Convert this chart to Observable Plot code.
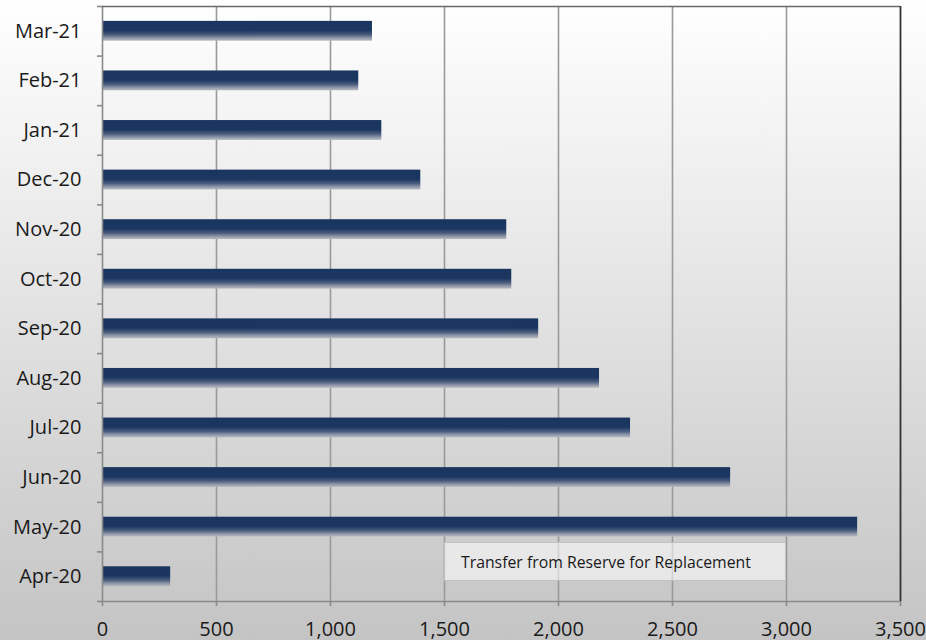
<!DOCTYPE html>
<html>
<head>
<meta charset="utf-8">
<script src="https://cdn.jsdelivr.net/npm/d3@7"></script>
<script src="https://cdn.jsdelivr.net/npm/@observablehq/plot@0.6"></script>
<style>
  html, body { margin: 0; padding: 0; }
  body {
    width: 926px; height: 640px; overflow: hidden;
    background: linear-gradient(to bottom, #ffffff 0%, #c4c4c4 100%);
    font-family: "Open Sans", sans-serif;
  }
  #wrap { position: relative; width: 926px; height: 640px; }
  #legend {
    position: absolute;
    box-sizing: border-box;
    background: rgba(255,255,255,0.55);
    border: 1.5px solid rgba(190,190,190,0.9);
    font-size: 15.8px;
    color: #1a1a1a;
    display: flex; align-items: center;
    padding-left: 16px;
    white-space: nowrap;
  }
</style>
</head>
<body>
<div id="wrap"></div>
<script>
const categories = ["Apr-20","May-20","Jun-20","Jul-20","Aug-20","Sep-20","Oct-20","Nov-20","Dec-20","Jan-21","Feb-21","Mar-21"];
const values = [299, 3312, 2755, 2316, 2180, 1913, 1795, 1773, 1396, 1225, 1124, 1184];
const xTicks = [0, 500, 1000, 1500, 2000, 2500, 3000, 3500];
const seriesName = "Transfer from Reserve for Replacement";

const data = categories.map((c, i) => ({month: c, idx: i, value: values[i]}));
const centers = categories.map((_, i) => i);
const boundaries = d3.range(categories.length + 1).map(i => i - 0.5);
const half = 0.2;

const plot = Plot.plot({
  width: 926,
  height: 640,
  marginLeft: 102,
  marginRight: 26,
  marginTop: 6,
  marginBottom: 39,
  x: {domain: [0, 3500], label: null},
  y: {domain: [-0.5, categories.length - 0.5], label: null},
  style: {background: "transparent", fontFamily: "Open Sans", fontSize: "20px", color: "#1a1a1a", overflow: "visible"},
  marks: [
    Plot.ruleX(xTicks.slice(1, -1), {stroke: "#9a9a9a", strokeWidth: 1.6}),
    Plot.rect(data, {x1: 0, x2: "value", y1: d => d.idx - half, y2: d => d.idx + half, fill: "url(#barGrad)"}),
    Plot.ruleX([0], {stroke: "#8a8a8a", strokeWidth: 1.6}),
    Plot.ruleY([-0.5], {stroke: "#8a8a8a", strokeWidth: 1.6}),
    Plot.ruleY([categories.length - 0.5], {stroke: "#6a6a6a", strokeWidth: 1.5}),
    Plot.ruleX([3500], {stroke: "#333333", strokeWidth: 1.8}),
    Plot.axisX({ticks: xTicks, tickSize: 5, tickPadding: 15, tickFormat: d3.format(","), stroke: "#8a8a8a", strokeWidth: 1.6, fill: "#1a1a1a", label: null}),
    Plot.axisY({ticks: centers, tickSize: 0, tickPadding: 21, tickFormat: i => categories[i], fill: "#1a1a1a", label: null}),
    Plot.axisY({ticks: boundaries, tickSize: 5, tickFormat: () => "", stroke: "#8a8a8a", strokeWidth: 1.6, label: null})
  ]
});

const ns = "http://www.w3.org/2000/svg";
const defs = document.createElementNS(ns, "defs");
defs.innerHTML = `<linearGradient id="barGrad" x1="0" y1="0" x2="0" y2="1">
  <stop offset="0" stop-color="#1a365f"/>
  <stop offset="0.48" stop-color="#1b3761"/>
  <stop offset="0.7" stop-color="#4a5d7e"/>
  <stop offset="0.86" stop-color="#8d95a6"/>
  <stop offset="1" stop-color="#b8bbc3"/>
</linearGradient>`;
plot.insertBefore(defs, plot.firstChild);

const wrap = document.getElementById("wrap");
wrap.appendChild(plot);

const xs = plot.scale("x");
const legend = document.createElement("div");
legend.id = "legend";
legend.textContent = seriesName;
const lx1 = xs.apply(1500), lx2 = xs.apply(3000);
legend.style.left = lx1 + "px";
legend.style.width = (lx2 - lx1) + "px";
legend.style.top = "542px";
legend.style.height = "39px";
wrap.appendChild(legend);
</script>
</body>
</html>
